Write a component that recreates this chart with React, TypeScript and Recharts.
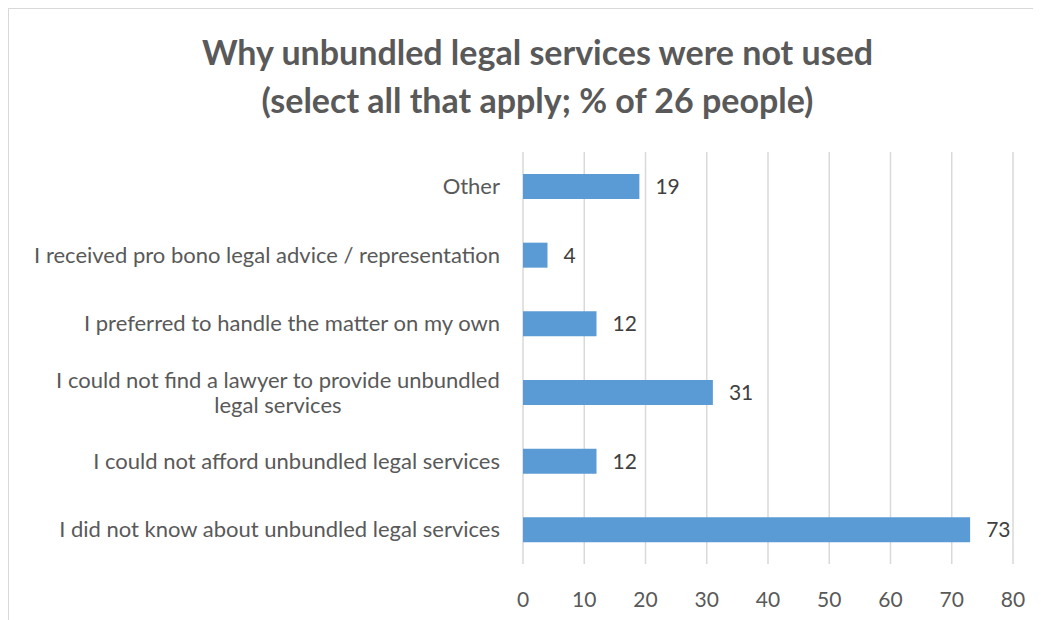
import { Bar, BarChart, CartesianGrid, LabelList, XAxis, YAxis } from 'recharts';

const categories = [
  'Other',
  'I received pro bono legal advice / representation',
  'I preferred to handle the matter on my own',
  'I could not find a lawyer to provide unbundled|legal services',
  'I could not afford unbundled legal services',
  'I did not know about unbundled legal services',
];
const percents = [19, 4, 12, 31, 12, 73];
const xTicks = [0, 10, 20, 30, 40, 50, 60, 70, 80];

const FONT = 'Lato, "Open Sans", sans-serif';
const CAT_SIZE = 22;
const NUM_SIZE = 21;

const data = categories.map((c, i) => ({ name: c, value: percents[i] }));

let ctx: CanvasRenderingContext2D | null = null;
function measure(text: string) {
  if (!ctx) ctx = document.createElement('canvas').getContext('2d');
  if (!ctx) return text.length * 10;
  ctx.font = CAT_SIZE + 'px ' + FONT;
  return ctx.measureText(text).width;
}

function CategoryTick(props: any) {
  const { x, y, payload } = props;
  const lines: string[] = String(payload.value).split('|');
  const right = x - 21;
  if (lines.length === 1) {
    return (
      <text x={right} y={y} dy="0.35em" textAnchor="end" fill="#595959" fontSize={CAT_SIZE} fontFamily={FONT}>
        {lines[0]}
      </text>
    );
  }
  const w = Math.max(...lines.map(measure));
  const cx = right - w / 2;
  const lh = 25;
  const start = y - ((lines.length - 1) * lh) / 2;
  return (
    <text textAnchor="middle" fill="#595959" fontSize={CAT_SIZE} fontFamily={FONT}>
      {lines.map((l, i) => (
        <tspan key={i} x={cx} y={start + i * lh} dy="0.35em">
          {l}
        </tspan>
      ))}
    </text>
  );
}

export default function App() {
  return (
    <div
      style={{
        position: 'relative',
        width: 1033,
        height: 612,
        borderTop: '1px solid #d9d9d9',
        borderLeft: '1px solid #d9d9d9',
        background: '#fff',
        fontFamily: FONT,
      }}
    >
      <div
        style={{
          position: 'absolute',
          left: 0,
          top: 19,
          width: 1057,
          textAlign: 'center',
          color: '#595959',
          fontWeight: 700,
          fontSize: 34,
          lineHeight: '48px',
        }}
      >
        Why unbundled legal services were not used
        <br />
        (select all that apply; % of 26 people)
      </div>
      <BarChart
        width={1032}
        height={611}
        data={data}
        layout="vertical"
        margin={{ top: 143, right: 28, bottom: 16, left: 0 }}
        barSize={25}
      >
        <CartesianGrid horizontal={false} stroke="#d9d9d9" strokeWidth={1.5} />
        <XAxis
          type="number"
          domain={[0, 80]}
          ticks={xTicks}
          axisLine={false}
          tickLine={false}
          tickSize={0}
          tickMargin={28}
          height={40}
          tick={{ fill: '#595959', fontSize: NUM_SIZE, fontFamily: FONT }}
        />
        <YAxis
          type="category"
          dataKey="name"
          width={514}
          axisLine={false}
          tickLine={false}
          tickSize={0}
          tick={<CategoryTick />}
          interval={0}
        />
        <Bar dataKey="value" fill="#5b9bd5" isAnimationActive={false}>
          <LabelList dataKey="value" position="right" offset={16} fill="#404040" fontSize={NUM_SIZE} fontFamily={FONT} />
        </Bar>
      </BarChart>
    </div>
  );
}
